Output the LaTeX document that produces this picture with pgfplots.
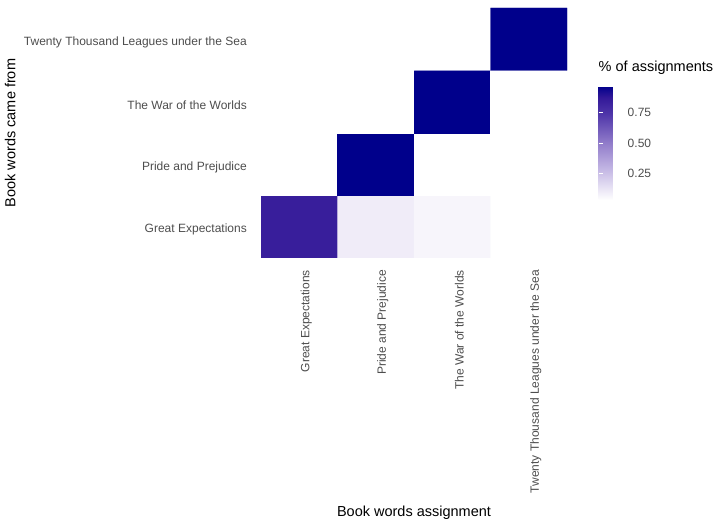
\documentclass[border=0pt]{standalone}
\usepackage{fontspec}
\setmainfont{Liberation Sans}
\usepackage{pgfplots}
\pgfplotsset{compat=1.18}
\definecolor{labgray}{RGB}{77,77,77}

\begin{document}
\begin{tikzpicture}
\path (0,0) rectangle (720pt,524pt);
\begin{axis}[
  at={(261pt,266pt)}, anchor=south west,
  width=306pt, height=250pt, scale only axis,
  xmin=-0.5, xmax=3.5, ymin=-0.5, ymax=3.5,
  axis line style={draw=none}, major tick style={draw=none},
  xtick={0,1,2,3}, ytick={0,1,2,3},
  xticklabels={Great Expectations,Pride and Prejudice,The War of the Worlds,Twenty Thousand Leagues under the Sea},
  yticklabels={Great Expectations,Pride and Prejudice,The War of the Worlds,Twenty Thousand Leagues under the Sea},
  xticklabel style={xshift=7pt, rotate=90, anchor=east, inner sep=0pt, text=labgray, font=\fontsize{12}{14}\selectfont},
  yticklabel style={yshift=-3pt, anchor=east, inner sep=0pt, text=labgray, font=\fontsize{12}{14}\selectfont},
  xticklabel shift=12pt, yticklabel shift=14pt,
  xlabel={Book words assignment}, ylabel={Book words came from},
  label style={font=\fontsize{14.5}{17}\selectfont},
  xlabel style={at={(axis description cs:0.5,-1.02)}, anchor=center},
  ylabel style={at={(axis description cs:-0.82,0.5)}, anchor=center},
  colormap={books}{rgb255(0cm)=(255,255,255); rgb255(25cm)=(200,188,230); rgb255(50cm)=(145,124,202); rgb255(75cm)=(80,55,170); rgb255(90cm)=(50,24,152); rgb255(100cm)=(0,0,139)},
  point meta min=0.035, point meta max=0.97,
  colorbar,
  colorbar style={
    at={(parent axis.north east)}, anchor=north west, xshift=23pt, yshift=-78pt,
    width=23pt, height=114pt, scale only axis,
    axis line style={draw=none},
    ytick={0.25,0.5,0.75}, yticklabels={0.25,0.50,0.75},
    ytick pos=both, yticklabel pos=right,
    tick align=inside, major tick length=4pt,
    major tick style={draw=white, line width=0.8pt},
    yticklabel style={inner sep=0pt, text=labgray, font=\fontsize{12}{14}\selectfont},
    yticklabel shift=6pt,
    title={\% of assignments},
    title style={at={(0,1)}, anchor=south west, inner sep=0pt, yshift=5pt, font=\fontsize{14.5}{17}\selectfont},
  },
]
\addplot[matrix plot*, mesh/cols=4, point meta=explicit] table[meta=v] {
x y v
0 0 0.85
1 0 0.10
2 0 0.07
3 0 0
0 1 0
1 1 0.97
2 1 0
3 1 0
0 2 0
1 2 0
2 2 0.97
3 2 0
0 3 0
1 3 0
2 3 0
3 3 0.97
};
\end{axis}
\end{tikzpicture}
\end{document}
